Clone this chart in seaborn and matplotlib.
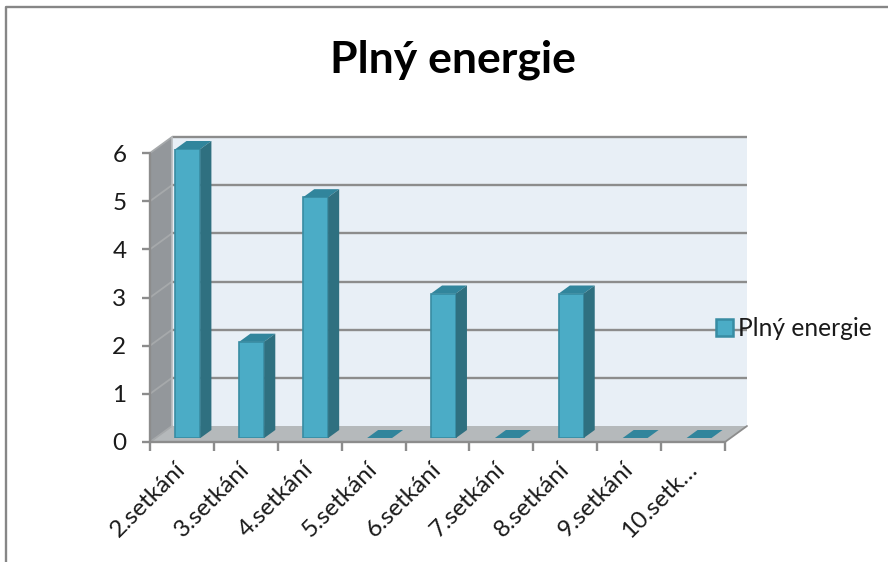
import matplotlib
matplotlib.use("Agg")
import matplotlib.pyplot as plt
from matplotlib.lines import Line2D
from matplotlib.patches import Polygon, Patch
from matplotlib.transforms import ScaledTranslation
import pandas as pd
import seaborn as sns

sessions = ["2.setkání", "3.setkání", "4.setkání", "5.setkání", "6.setkání",
            "7.setkání", "8.setkání", "9.setkání", "10.setk…"]
counts = [6, 2, 5, 0, 3, 0, 3, 0, 0]
series_name = "Plný energie"
y_ticks = [0, 1, 2, 3, 4, 5, 6]

W, H = 888, 562
FRONT_FACE = "#4BACC6"
BAR_EDGE = "#388CA3"
BAR_SIDE = "#2F7080"
BAR_TOP = "#31859C"
BACK_WALL = "#E8EFF6"
SIDE_WALL = "#93979B"
FLOOR = "#B5B9BB"
GRID = "#8C8C8C"
TEXT = "#1A1A1A"

sns.set_theme(style="white")
plt.rcParams["font.family"] = ["Lato", "DejaVu Sans"]


def px_axes(fig, left, right, bottom, top, **kw):
    """Add an axes from pixel edges measured from the top-left corner."""
    return fig.add_axes([left / W, 1 - bottom / H, (right - left) / W, (bottom - top) / H], **kw)


fig = plt.figure(figsize=(W / 100, H / 100), dpi=100, facecolor="white")

# Outer chart frame along the top and left edges
fig.add_artist(Line2D([6 / W, 6 / W, 1], [0, 1 - 7 / H, 1 - 7 / H],
                      color="#868686", lw=1.7, transform=fig.transFigure))

# Front plane of the 3D box carries the axes and the walls
ax = px_axes(fig, 150, 725, 442, 153)
ax.set_xlim(-0.5, 8.5)
ax.set_ylim(0, 6)
ax.patch.set_visible(False)
for s in ax.spines.values():
    s.set_visible(False)

x0, x1 = -0.5, 8.5
dx = 22 / 575 * 9
dy = 16 / 289 * 6
ax.add_patch(Polygon([(x0 + dx, dy), (x1 + dx, dy), (x1 + dx, 6 + dy), (x0 + dx, 6 + dy)],
                     fc=BACK_WALL, ec="none", clip_on=False, zorder=1))
ax.add_patch(Polygon([(x0, 0), (x0 + dx, dy), (x0 + dx, 6 + dy), (x0, 6)],
                     fc=SIDE_WALL, ec="none", clip_on=False, zorder=1))
ax.add_patch(Polygon([(x0, 0), (x1, 0), (x1 + dx, dy), (x0 + dx, dy)],
                     fc=FLOOR, ec="none", clip_on=False, zorder=1))
for v in y_ticks:
    if v:
        ax.plot([x0 + dx, x1 + dx], [v + dy, v + dy], color=GRID, lw=1.7,
                clip_on=False, zorder=2, solid_capstyle="butt")
    ax.plot([x0, x0 + dx], [v, v + dy], color="#A6A9AB", lw=1.3, clip_on=False, zorder=2)
ax.plot([x0 + dx, x0 + dx], [dy, 6 + dy], color="#B9BCBE", lw=1.2, clip_on=False, zorder=2)
ax.plot([x1 + dx, x1], [dy, 0], color=GRID, lw=1.3, clip_on=False, zorder=2)
ax.plot([x0, x1], [0, 0], color=GRID, lw=1.7, clip_on=False, zorder=2)
ax.plot([x0, x0], [0, 6], color=GRID, lw=1.7, clip_on=False, zorder=2)

ax.set_xticks([i - 0.5 for i in range(10)], [""] * 10)
ax.set_xticks(range(9), sessions, minor=True, rotation=45, ha="right",
              rotation_mode="anchor", fontsize=17.5, color=TEXT)
ax.set_yticks(y_ticks, [str(v) for v in y_ticks], fontsize=17.5, color=TEXT)
ax.tick_params(axis="x", which="major", length=6.5, width=1.7, color=GRID, bottom=True)
ax.tick_params(axis="x", which="minor", length=0, pad=12)
ax.tick_params(axis="y", length=6, width=1.7, color=GRID, left=True, pad=11)

# Shift the slanted labels so they end just left of each category centre
label_shift = ScaledTranslation(-7 / 100, 0, fig.dpi_scale_trans)
for label in ax.get_xticklabels(minor=True):
    label.set_transform(label.get_transform() + label_shift)

# Bars sit halfway into the box depth
bar_ax = px_axes(fig, 156, 731, 438, 149)
bar_ax.patch.set_visible(False)
frame = pd.DataFrame({"session": sessions, "count": counts})
sns.barplot(data=frame, x="session", y="count", ax=bar_ax, width=0.39,
            color=FRONT_FACE, saturation=1, edgecolor=BAR_EDGE, linewidth=1.2)
bar_ax.set_xlim(-0.5, 8.5)
bar_ax.set_ylim(0, 6)
bar_ax.axis("off")

bdx = 11 / 575 * 9
bdy = 8 / 289 * 6
for bar in bar_ax.patches:
    l, r = bar.get_x(), bar.get_x() + bar.get_width()
    t = bar.get_height()
    bar_ax.add_patch(Polygon([(l, t), (r, t), (r + bdx, t + bdy), (l + bdx, t + bdy)],
                             fc=BAR_TOP, ec="none", clip_on=False, zorder=3))
    if t > 0:
        bar_ax.add_patch(Polygon([(r, 0), (r + bdx, bdy), (r + bdx, t + bdy), (r, t)],
                                 fc=BAR_SIDE, ec="none", clip_on=False, zorder=3))
    else:
        bar.set_visible(False)

fig.text(453 / W, 1 - 60 / H, series_name, ha="center", va="center",
         fontsize=32, fontweight="bold", color="#000000")

fig.legend(handles=[Patch(fc=FRONT_FACE, ec=BAR_EDGE, lw=1.8, label=series_name)],
           loc="center left", bbox_to_anchor=(694 / W, 1 - 329 / H), frameon=False,
           fontsize=17.7, handlelength=0.68, handleheight=0.68, handletextpad=0.2,
           labelcolor=TEXT)

fig.savefig("out.png", dpi=100)
